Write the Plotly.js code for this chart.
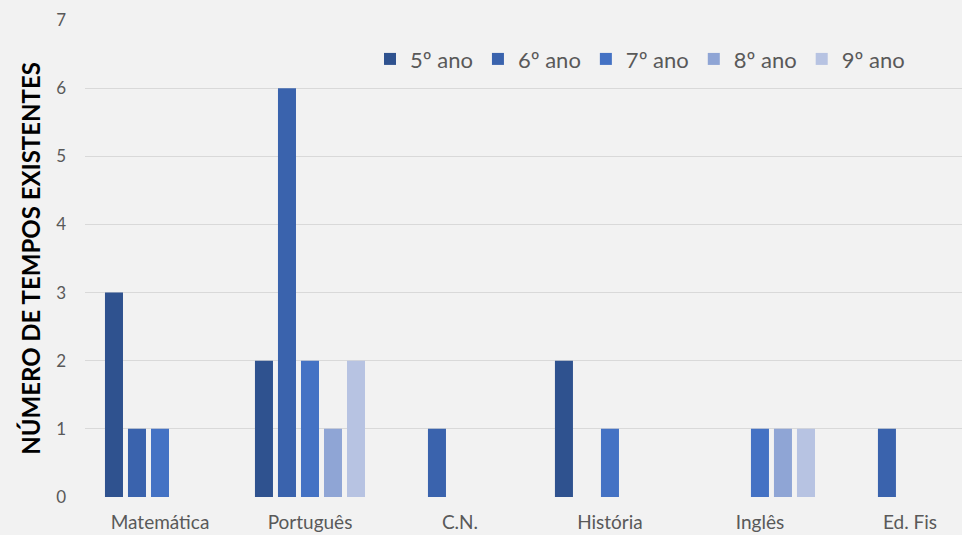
<!DOCTYPE html>
<html>
<head>
<meta charset="utf-8">
<script src="https://cdn.plot.ly/plotly-3.0.1.min.js"></script>
<style>html,body{margin:0;padding:0;background:#F2F2F2;overflow:hidden;}</style>
</head>
<body>
<div id="chart" style="width:962px;height:535px;"></div>
<script>
const categories = ["Matemática", "Português", "C.N.", "História", "Inglês", "Ed. Fis"];
const seriesNames = ["5º ano", "6º ano", "7º ano", "8º ano", "9º ano"];
const ano5 = [3, 2, 0, 2, 0, 0];
const ano6 = [1, 6, 1, 0, 0, 1];
const ano7 = [1, 2, 0, 1, 1, 0];
const ano8 = [0, 1, 0, 0, 1, 0];
const ano9 = [0, 2, 0, 0, 1, 0];
const yTicks = [0, 1, 2, 3, 4, 5, 6, 7];

const seriesValues = [ano5, ano6, ano7, ano8, ano9];
const colors = ["#2F528F", "#3A63AD", "#4472C4", "#8FA5D5", "#B7C3E2"];

const traces = seriesValues.map((vals, i) => ({
  type: "bar",
  name: seriesNames[i],
  x: categories,
  y: vals,
  marker: {color: colors[i], line: {width: 0}},
  hoverinfo: "x+y+name"
}));

const layout = {
  width: 962,
  height: 535,
  paper_bgcolor: "#F2F2F2",
  plot_bgcolor: "#F2F2F2",
  margin: {l: 85, r: 0, t: 20, b: 38},
  barmode: "group",
  bargap: 0.233,
  bargroupgap: 0.217,
  font: {family: "Lato, 'Open Sans', sans-serif", color: "#595959", size: 18},
  xaxis: {
    type: "category",
    range: [-0.5, 5.347],
    showgrid: false,
    zeroline: false,
    showline: false,
    ticks: "",
    ticklabelstandoff: 12,
    tickfont: {size: 19, color: "#595959"}
  },
  yaxis: {
    range: [0, 7],
    tickvals: yTicks,
    showgrid: true,
    gridcolor: "#D9D9D9",
    gridwidth: 1,
    zeroline: false,
    showline: false,
    ticks: "",
    ticklabelstandoff: 18,
    tickfont: {size: 17, color: "#595959"},
    title: {
      text: "NÚMERO DE TEMPOS EXISTENTES",
      font: {size: 24, color: "#000000", family: "Lato, 'Open Sans', sans-serif", weight: "bold"},
      standoff: 8
    }
  },
  legend: {
    orientation: "h",
    x: 0.325,
    xanchor: "left",
    y: 0.918,
    yanchor: "middle",
    bgcolor: "rgba(0,0,0,0)",
    font: {size: 22, color: "#595959"},
    itemwidth: 30,
    tracegroupgap: 0
  },
  showlegend: true
};

Plotly.newPlot("chart", traces, layout, {displayModeBar: false, responsive: false});
</script>
</body>
</html>
